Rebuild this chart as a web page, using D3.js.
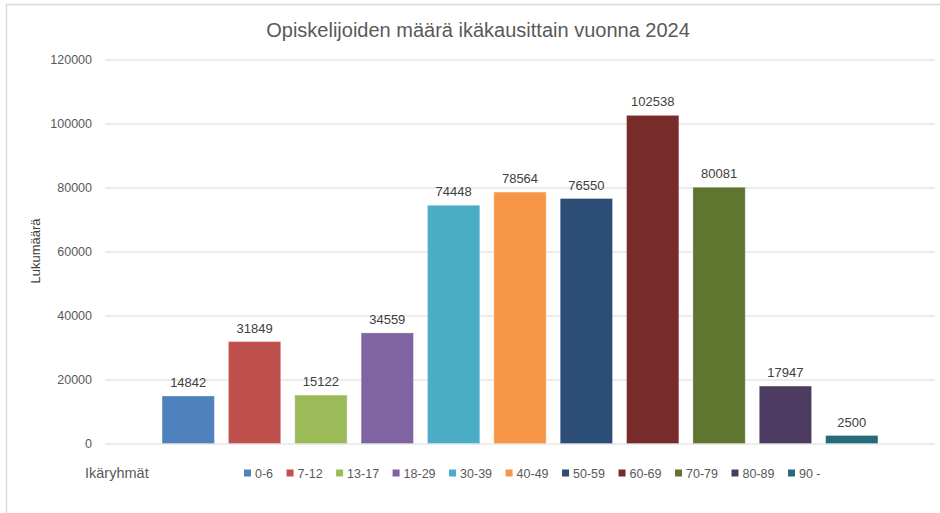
<!DOCTYPE html>
<html>
<head>
<meta charset="utf-8">
<script src="https://cdn.jsdelivr.net/npm/d3@7"></script>
<style>
  body { margin: 0; background: #fff; }
  svg { display: block; font-family: "Liberation Sans", Arial, sans-serif; }
</style>
</head>
<body>
<div id="chart"></div>
<script>
/* Opiskelijat ikäryhmittäin 2024 */

const ageGroups = ["0-6", "7-12", "13-17", "18-29", "30-39", "40-49", "50-59", "60-69", "70-79", "80-89", "90 -"];
const students = [14842, 31849, 15122, 34559, 74448, 78564, 76550, 102538, 80081, 17947, 2500];
const barColors = ["#4F81BD", "#C0504D", "#9BBB59", "#8064A2", "#4BACC6", "#F79646",
                   "#2C4D75", "#772C2A", "#5F7530", "#4D3B62", "#276A7C"];
const yTicks = [0, 20000, 40000, 60000, 80000, 100000, 120000];

const data = ageGroups.map((g, i) => ({ group: g, count: students[i], color: barColors[i] }));

const width = 940,
      height = 513,
      margin = ({ top: 59, right: 5, bottom: 70, left: 105 });

let svg = d3.select("#chart")
    .append("svg")
    .attr("width", width)
    .attr("height", height);

// chart area border (left + top only visible)
svg.append("path")
    .attr("d", `M6.5,${height} V4.5 H${width}`)
    .attr("fill", "none")
    .attr("stroke", "#d9d9d9")
    .attr("stroke-width", 1.5);

let x = d3.scaleBand()
    .domain(ageGroups)
    .range([margin.left, width - margin.right])
    .paddingInner(0.212)
    .paddingOuter(0.86);

let y = d3.scaleLinear()
    .domain([0, 120000])
    .range([443.5, 59.5]);

// gridlines + y labels
let yAxis = svg.append("g")
    .attr("transform", `translate(${margin.left},0)`)
    .call(d3.axisLeft(y).tickValues(yTicks).tickSize(-(width - margin.right - margin.left)).tickPadding(13).tickFormat(d3.format("d")));

yAxis.select(".domain").remove();
yAxis.selectAll(".tick line").attr("stroke", "#d9d9d9").attr("stroke-width", 1.2);
yAxis.selectAll(".tick text")
    .attr("fill", "#595959")
    .style("font-size", "12.5px");

// bars
let bar = svg.selectAll(".bar")
    .data(data)
    .join("g")
    .attr("class", "bar");

bar.append("rect")
    .attr("fill", d => d.color)
    .attr("stroke", "#ffffff")
    .attr("stroke-opacity", 0.35)
    .attr("stroke-width", 0.8)
    .attr("x", d => x(d.group))
    .attr("width", x.bandwidth())
    .attr("y", d => y(d.count))
    .attr("height", d => y(0) - y(d.count));

bar.append("text")
    .text(d => d.count)
    .attr("x", d => x(d.group) + x.bandwidth() / 2)
    .attr("y", d => y(d.count) - 9)
    .attr("text-anchor", "middle")
    .style("font-size", "13px")
    .style("fill", "#404040");

// title
svg.append("text")
    .attr("x", 478)
    .attr("y", 37)
    .attr("text-anchor", "middle")
    .style("font-size", "20px")
    .style("fill", "#595959")
    .text("Opiskelijoiden määrä ikäkausittain vuonna 2024");

// y title
svg.append("text")
    .attr("transform", "translate(40,251) rotate(-90)")
    .attr("text-anchor", "middle")
    .style("font-size", "13px")
    .style("fill", "#404040")
    .text("Lukumäärä");

// category label left of legend
svg.append("text")
    .attr("x", 85)
    .attr("y", 478)
    .style("font-size", "14.5px")
    .style("fill", "#595959")
    .text("Ikäryhmät");

// legend
let legend = svg.append("g").attr("transform", "translate(244,473)");
let lx = 0;
data.forEach(d => {
    let item = legend.append("g").attr("transform", `translate(${lx},0)`);
    item.append("rect")
        .attr("x", 0).attr("y", -3.5)
        .attr("width", 7).attr("height", 7)
        .attr("fill", d.color);
    let t = item.append("text")
        .attr("x", 11).attr("y", 4.5)
        .style("font-size", "12.5px")
        .style("fill", "#595959")
        .text(d.group);
    lx += 11 + t.node().getComputedTextLength() + 13.5;
});
</script>
</body>
</html>
